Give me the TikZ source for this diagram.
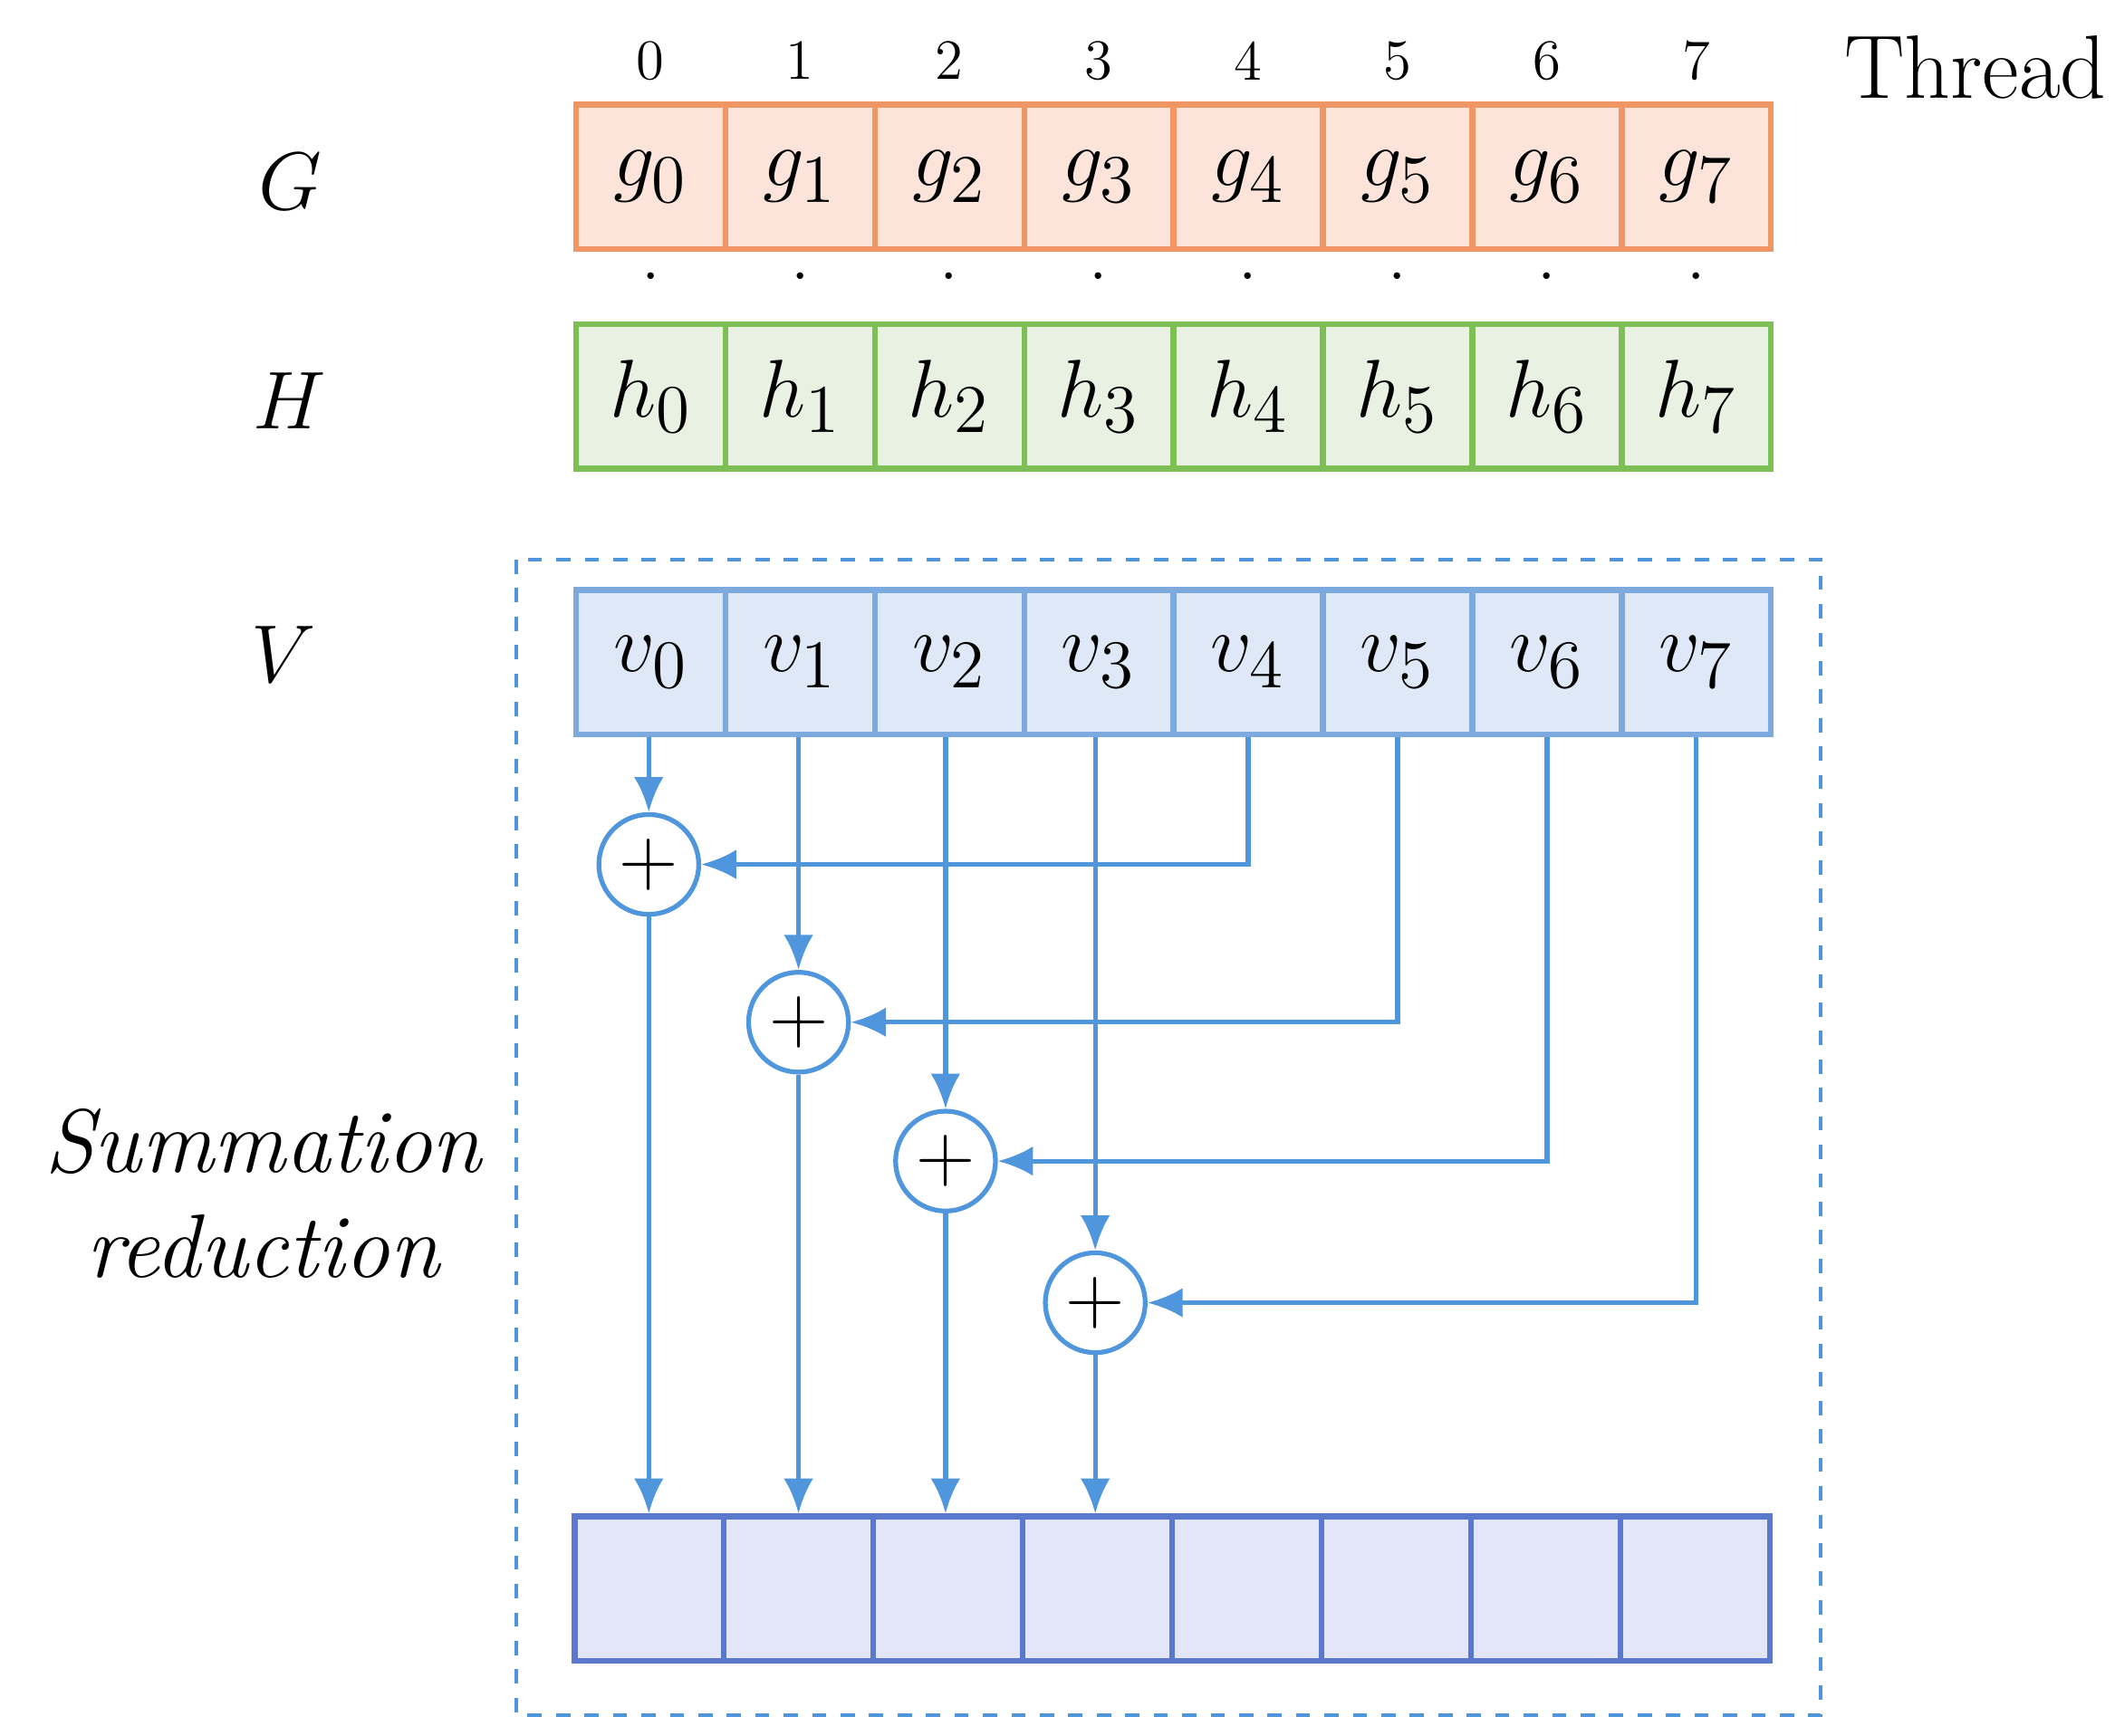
\documentclass[tikz,border=0pt]{standalone}
\usepackage{amsmath}
\usetikzlibrary{positioning,arrows.meta}
\definecolor{gline}{RGB}{240,150,100}
\definecolor{gfill}{RGB}{252,228,218}
\definecolor{hline}{RGB}{125,190,85}
\definecolor{hfill}{RGB}{232,241,226}
\definecolor{vline}{RGB}{125,170,222}
\definecolor{vfill}{RGB}{222,232,246}
\definecolor{rline}{RGB}{90,120,205}
\definecolor{rfill}{RGB}{226,230,246}
\definecolor{flow}{RGB}{80,150,220}
\tikzset{
  cell/.style={draw, line width=1.2pt, minimum width=1.107cm, minimum height=1.07cm, inner sep=0pt, font=\fontsize{19}{22}\selectfont},
  plus/.style={circle, draw=flow, fill=white, line width=1pt, minimum size=0.74cm, inner sep=0pt, font=\fontsize{17}{20}\selectfont},
  flowarrow/.style={-{Latex[length=2.6mm,width=2.2mm]}, flow, line width=1pt},
  rowlabel/.style={font=\fontsize{19}{22}\selectfont\itshape}
}
\begin{document}
\begin{tikzpicture}[x=0.01cm,y=-0.01cm]
    \useasboundingbox (0,0) rectangle (1568,1287);
    % Dashed frame
    \draw[flow, dashed, line width=0.8pt] (383,415) rectangle (1350,1272);

    % Rows of cells
    \foreach \i in {0,...,7} {
        \pgfmathsetmacro{\cx}{482.4+110.75*\i}
        \node[cell, draw=gline, fill=gfill] (g\i) at (\cx,131) {$g_{\i}$};
        \node[font=\fontsize{12}{14}\selectfont] (t\i) at (\cx,45) {\i};
        \node[font=\Large] (d\i) at (\cx,205) {.};
        \node[cell, draw=hline, fill=hline!0!hfill] (h\i) at (\cx,294) {$h_{\i}$};
        \node[cell, draw=vline, fill=vfill] (v\i) at (\cx,491) {$v_{\i}$};
        \node[cell, draw=rline, fill=rfill] (r\i) at (\cx-1,1178) {};
    }
    \node[font=\fontsize{19}{22}\selectfont, anchor=west] (thread) at (1355,50) {Thread};

    % Row labels
    \node[rowlabel] (lg) at (215,135) {$G$};
    \node[rowlabel] (lh) at (215,297) {$H$};
    \node[rowlabel] (lv) at (210,485) {$V$};
    \node[rowlabel, align=center] (ls) at (195,885) {Summation\\reduction};

    % Adders
    \node[plus] (s0) at (481,641) {$+$};
    \node[plus] (s1) at (592,758) {$+$};
    \node[plus] (s2) at (701,861) {$+$};
    \node[plus] (s3) at (812,966) {$+$};

    % Connections
    \foreach \i in {0,...,3} {
        \pgfmathtruncatemacro{\j}{\i+4}
        \draw[flowarrow] (v\i.south -| s\i) -- (s\i.north);
        \draw[flowarrow] (v\j.south) |- (s\i.east);
        \draw[flowarrow] (s\i.south) -- (s\i |- r\i.north);
    }
\end{tikzpicture}
\end{document}
